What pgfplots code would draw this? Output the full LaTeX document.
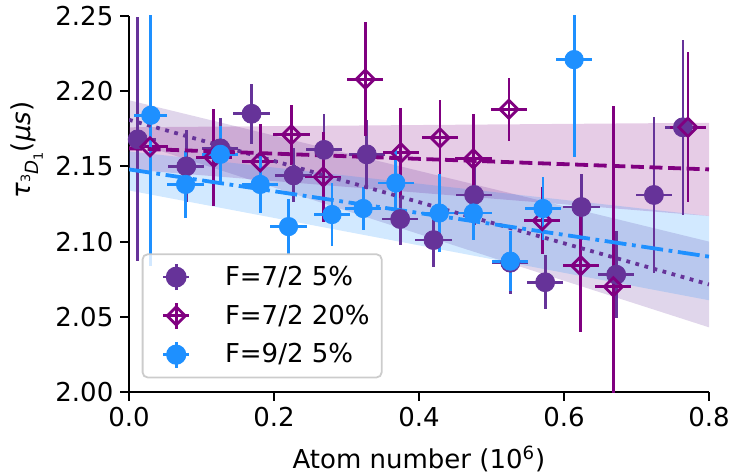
\documentclass[border=0pt]{standalone}
\usepackage{fontspec}
\setmainfont{DejaVu Sans}
\usepackage{pgfplots}
\usepackage{pgfplotstable}
\pgfplotsset{compat=1.18}

\definecolor{rpurple}{HTML}{663399}
\definecolor{purp}{HTML}{800080}
\definecolor{dblue}{HTML}{1E90FF}

\newcommand{\fs}{\fontsize{13}{15.6}\selectfont}

% F=7/2 5%
\pgfplotstableread{
x     y     ex    ey
0.012 2.168 0.025 0.081
0.079 2.150 0.025 0.024
0.126 2.162 0.025 0.020
0.169 2.185 0.025 0.020
0.227 2.144 0.025 0.018
0.269 2.161 0.025 0.024
0.328 2.158 0.025 0.023
0.374 2.115 0.025 0.017
0.420 2.101 0.025 0.018
0.476 2.131 0.025 0.020
0.526 2.086 0.025 0.021
0.574 2.073 0.025 0.018
0.624 2.123 0.025 0.022
0.672 2.078 0.025 0.029
0.724 2.131 0.025 0.052
0.764 2.176 0.025 0.058
}\tabA

% F=7/2 20%
\pgfplotstableread{
x     y     ex    ey
0.029 2.163 0.025 0.015
0.117 2.156 0.025 0.032
0.181 2.153 0.025 0.025
0.224 2.171 0.025 0.020
0.268 2.143 0.025 0.030
0.326 2.208 0.025 0.038
0.375 2.159 0.025 0.030
0.429 2.169 0.025 0.025
0.475 2.155 0.025 0.030
0.524 2.188 0.025 0.021
0.570 2.114 0.025 0.022
0.623 2.084 0.025 0.044
0.668 2.070 0.025 0.120
0.771 2.176 0.025 0.050
}\tabB

% F=9/2 5%
\pgfplotstableread{
x     y     ex    ey
0.030 2.184 0.023 0.100
0.078 2.138 0.025 0.022
0.126 2.158 0.025 0.019
0.181 2.138 0.025 0.019
0.220 2.110 0.025 0.018
0.280 2.118 0.025 0.021
0.323 2.122 0.025 0.014
0.368 2.139 0.025 0.022
0.428 2.119 0.025 0.026
0.475 2.119 0.025 0.018
0.526 2.087 0.025 0.020
0.571 2.122 0.025 0.021
0.614 2.221 0.025 0.065
}\tabC

\pgfplotsset{
  errleg/.style 2 args={legend image code/.code={
    \path[draw=none, fill=none] (-6.3pt,0pt) -- (0pt,0pt);
    \draw[#1, solid, line width=1.4pt, opacity=1] (0pt,0pt) -- (13pt,0pt) (6.5pt,-6.5pt) -- (6.5pt,6.5pt);
    \draw[#1, only marks, opacity=1, #2] plot coordinates {(6.5pt,0pt)};
  }},
  ebars/.style={error bars/x dir=both, error bars/x explicit,
    error bars/y dir=both, error bars/y explicit,
    error bars/error mark=none,
    error bars/error bar style={line width=1.4pt, solid}},
}

\begin{document}
\begin{tikzpicture}
\begin{axis}[
  scale only axis, width=290pt, height=188pt,
  xmin=0, xmax=0.8, ymin=2, ymax=2.25,
  axis x line*=bottom, axis y line*=left,
  axis line style={line width=1pt},
  every tick/.style={black, line width=1pt},
  tick align=outside, major tick length=4.3pt,
  xtick={0,0.2,0.4,0.6,0.8}, xticklabels={0.0,0.2,0.4,0.6,0.8},
  ytick={2,2.05,2.1,2.15,2.2,2.25}, yticklabels={2.00,2.05,2.10,2.15,2.20,2.25},
  tick label style={font=\fs},
  label style={font=\fs},
  xlabel={Atom number (10\textsuperscript{6})},
  ylabel={\textit{τ}\raisebox{-0.3em}{\fontsize{9.1}{9}\selectfont\raisebox{0.45em}{\fontsize{6.4}{6}\selectfont 3}\textit{D}\raisebox{-0.25em}{\fontsize{6.4}{6}\selectfont 1}}(\textit{μs})},
  xlabel style={at={(axis description cs:0.5,0)}, anchor=center, yshift=-33.3pt},
  ylabel style={at={(axis description cs:-0.176,0.644)}, anchor=center},
  legend cell align=left,
  legend style={at={(0.0219,0.0364)}, anchor=south west, font=\fs,
    draw=gray!40, line width=0.9pt, rounded corners=2.5pt,
    fill=white, fill opacity=0.8, text opacity=1,
    inner xsep=4pt, inner ysep=3.8pt, row sep=4.25pt, column sep=15.2pt,
    nodes={inner sep=2pt}},
]
% confidence bands
\addplot[forget plot, draw=none, fill=rpurple, fill opacity=0.2]
  coordinates {(0,2.167) (0.8,2.043) (0.8,2.100) (0,2.194)} -- cycle;
\addplot[forget plot, draw=none, fill=purp, fill opacity=0.2]
  coordinates {(0,2.148) (0.8,2.117) (0.8,2.179) (0,2.176)} -- cycle;
\addplot[forget plot, draw=none, fill=dblue, fill opacity=0.2]
  coordinates {(0,2.134) (0.8,2.061) (0.8,2.117) (0,2.160)} -- cycle;

% data
\addplot[rpurple, only marks, mark=*, mark size=4.75pt,
  mark options={draw=none, fill=rpurple}, ebars,
  errleg={rpurple}{mark=*, mark size=4.75pt, mark options={draw=none, fill=rpurple}}]
  table[x=x, y=y, x error=ex, y error=ey] {\tabA};
\addlegendentry{F=7/2 5\%}
\addplot[purp, only marks, mark=square, mark size=3.2pt,
  mark options={rotate=45, line width=1.4pt, fill=none, solid}, ebars,
  errleg={purp}{mark=square, mark size=3.2pt, mark options={rotate=45, line width=1.4pt, fill=none, sharp corners}}]
  table[x=x, y=y, x error=ex, y error=ey] {\tabB};
\addlegendentry{F=7/2 20\%}
\addplot[dblue, only marks, mark=*, mark size=4.6pt,
  mark options={draw=none, fill=dblue}, ebars,
  errleg={dblue}{mark=*, mark size=4.6pt, mark options={draw=none, fill=dblue}}]
  table[x=x, y=y, x error=ex, y error=ey] {\tabC};
\addlegendentry{F=9/2 5\%}

% fits
\addplot[forget plot, rpurple, line width=1.9pt, dash pattern=on 1.9pt off 2.8pt]
  coordinates {(0,2.181) (0.8,2.0715)};
\addplot[forget plot, purp, line width=1.9pt, dash pattern=on 6.5pt off 2.8pt]
  coordinates {(0,2.162) (0.8,2.148)};
\addplot[forget plot, dblue, line width=1.9pt, dash pattern=on 11pt off 2.8pt on 1.9pt off 2.8pt]
  coordinates {(0,2.148) (0.8,2.090)};
\end{axis}
\pgfresetboundingbox
\path ([shift={(-64.5pt,-41pt)}]current axis.south west) rectangle ([shift={(11.5pt,8pt)}]current axis.north east);
\end{tikzpicture}
\end{document}
